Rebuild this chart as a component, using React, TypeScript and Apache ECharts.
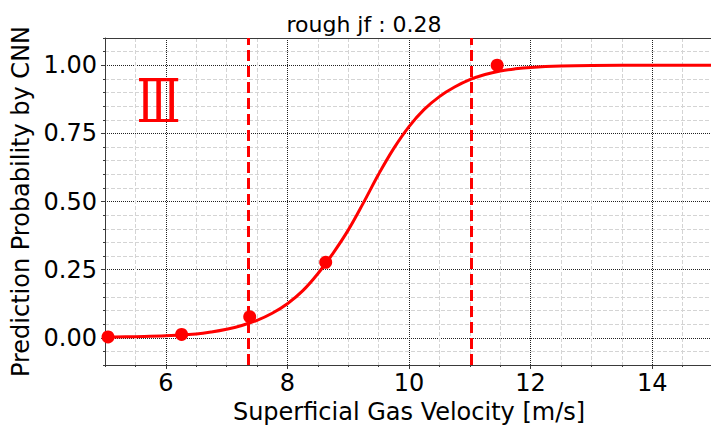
import React, { useEffect, useRef } from 'react';
import * as echarts from 'echarts';

const titleText = 'rough jf : 0.28';
const regimeLabel = 'Ⅲ';
const xName = 'Superficial Gas Velocity [m/s]';
const yName = 'Prediction Probability by CNN';

const xMajorTicks = [6, 8, 10, 12, 14];
const yMajorTicks = [0, 0.25, 0.5, 0.75, 1.0];

// fitted curve
const curveX = [5, 5.5, 6, 6.5, 6.75, 7, 7.25, 7.5, 7.75, 8, 8.25, 8.5, 8.75, 9, 9.25, 9.5, 9.75, 10, 10.25, 10.5, 10.75, 11, 11.25, 11.5, 11.75, 12, 12.5, 13, 14, 15];
const curveY = [0.002, 0.004, 0.007, 0.014, 0.021, 0.031, 0.045, 0.064, 0.09, 0.125, 0.172, 0.235, 0.31, 0.395, 0.495, 0.6, 0.695, 0.775, 0.838, 0.885, 0.92, 0.947, 0.966, 0.979, 0.987, 0.992, 0.997, 0.999, 1.0, 1.0];

// measured points
const pointX = [5.05, 6.26, 7.38, 8.63, 11.45];
const pointY = [0.003, 0.012, 0.077, 0.277, 1.0];

// transition boundaries
const boundaryX = [7.36, 11.03];

export default function App() {
  const ref = useRef<HTMLDivElement>(null);
  useEffect(() => {
    const chart = echarts.init(ref.current!, null, { renderer: 'svg' });
    const font = 'DejaVu Sans';
    const textColor = '#000';
    const minorGrid = '#d4d4d4';
    const clear = 'rgba(0,0,0,0)';
    const spine = '#3a3a3a';
    chart.setOption({
      animation: false,
      grid: { left: 105, right: 0, top: 38, bottom: 64, containLabel: false },
      graphic: [
        {
          type: 'text', x: 364, y: 24, z: 10,
          style: { text: titleText, fontSize: 22, fontFamily: font, fill: textColor, align: 'center', verticalAlign: 'middle', textAlign: 'center', textVerticalAlign: 'middle' },
        },
        {
          type: 'text', x: 158.5, y: 101, scaleX: 0.85, scaleY: 1.12, z: 10,
          style: { text: regimeLabel, fontSize: 54, fontFamily: 'DejaVu Serif', fill: '#ff0000', align: 'center', verticalAlign: 'middle', textAlign: 'center', textVerticalAlign: 'middle' },
        },
      ],
      xAxis: [
        {
          type: 'value', min: 5, max: 15, interval: 0.5, position: 'bottom',
          axisLine: { show: true, onZero: false, lineStyle: { color: spine, width: 1 } },
          axisTick: { show: true, length: 2, lineStyle: { color: spine } },
          axisLabel: { show: false },
          splitLine: { show: true, lineStyle: { type: 'dashed', color: [minorGrid, minorGrid, clear, minorGrid], width: 1 } },
        },
        {
          type: 'value', min: 5, max: 15, position: 'bottom',
          axisLine: { show: false, onZero: false },
          axisTick: { show: true, length: 4, customValues: xMajorTicks, lineStyle: { color: spine } },
          axisLabel: { show: true, customValues: xMajorTicks, fontSize: 24, fontFamily: font, color: textColor, margin: 6 },
          splitLine: { show: true, lineStyle: { type: 'dotted', color: '#222', width: 1 } },
          name: xName, nameLocation: 'middle', nameGap: 31,
          nameTextStyle: { fontSize: 24, fontFamily: font, color: textColor },
        },
        {
          type: 'value', min: 5, max: 15, position: 'top',
          axisLine: { show: true, onZero: false, lineStyle: { color: spine, width: 1 } },
          axisTick: { show: false }, axisLabel: { show: false }, splitLine: { show: false },
        },
      ],
      yAxis: [
        {
          type: 'value', min: -0.1, max: 1.1, interval: 0.05, position: 'left',
          axisLine: { show: true, onZero: false, lineStyle: { color: spine, width: 1 } },
          axisTick: { show: true, length: 2, lineStyle: { color: spine } },
          axisLabel: { show: false },
          splitLine: { show: true, lineStyle: { type: 'dashed', color: [minorGrid, minorGrid, clear, minorGrid, minorGrid], width: 1 } },
        },
        {
          type: 'value', min: -0.1, max: 1.1, position: 'left',
          axisLine: { show: false, onZero: false },
          axisTick: { show: true, length: 4, customValues: yMajorTicks, lineStyle: { color: spine } },
          axisLabel: { show: true, customValues: yMajorTicks, fontSize: 24, fontFamily: font, color: textColor, margin: 8, formatter: (v: number) => v.toFixed(2) },
          splitLine: { show: true, lineStyle: { type: 'dotted', color: '#222', width: 1 } },
          name: yName, nameLocation: 'middle', nameGap: 70,
          nameTextStyle: { fontSize: 24, fontFamily: font, color: textColor },
        },
        {
          type: 'value', min: -0.1, max: 1.1, position: 'right',
          axisLine: { show: true, onZero: false, lineStyle: { color: spine, width: 1 } },
          axisTick: { show: false }, axisLabel: { show: false }, splitLine: { show: false },
        },
      ],
      series: [
        {
          type: 'line', xAxisIndex: 0, yAxisIndex: 0,
          data: curveX.map((x, i) => [x, curveY[i]]),
          showSymbol: false, smooth: 0.4,
          lineStyle: { color: '#ff0000', width: 3 }, z: 3,
          markLine: {
            silent: true, symbol: ['none', 'none'], label: { show: false },
            lineStyle: { color: '#ff0000', type: [11, 5], width: 3 },
            data: boundaryX.map((v) => ({ xAxis: v })),
          },
        },
        {
          type: 'scatter', xAxisIndex: 0, yAxisIndex: 0,
          data: pointX.map((x, i) => [x, pointY[i]]),
          symbolSize: 13, itemStyle: { color: '#ff0000', opacity: 1 }, z: 4, clip: false,
        },
      ],
    });
    return () => chart.dispose();
  }, []);
  return (
    <div style={{ position: 'absolute', left: 0, top: 0, width: 711, height: 429, overflow: 'hidden', background: '#fff' }}>
      <div ref={ref} style={{ width: 713, height: 429 }} />
    </div>
  );
}
